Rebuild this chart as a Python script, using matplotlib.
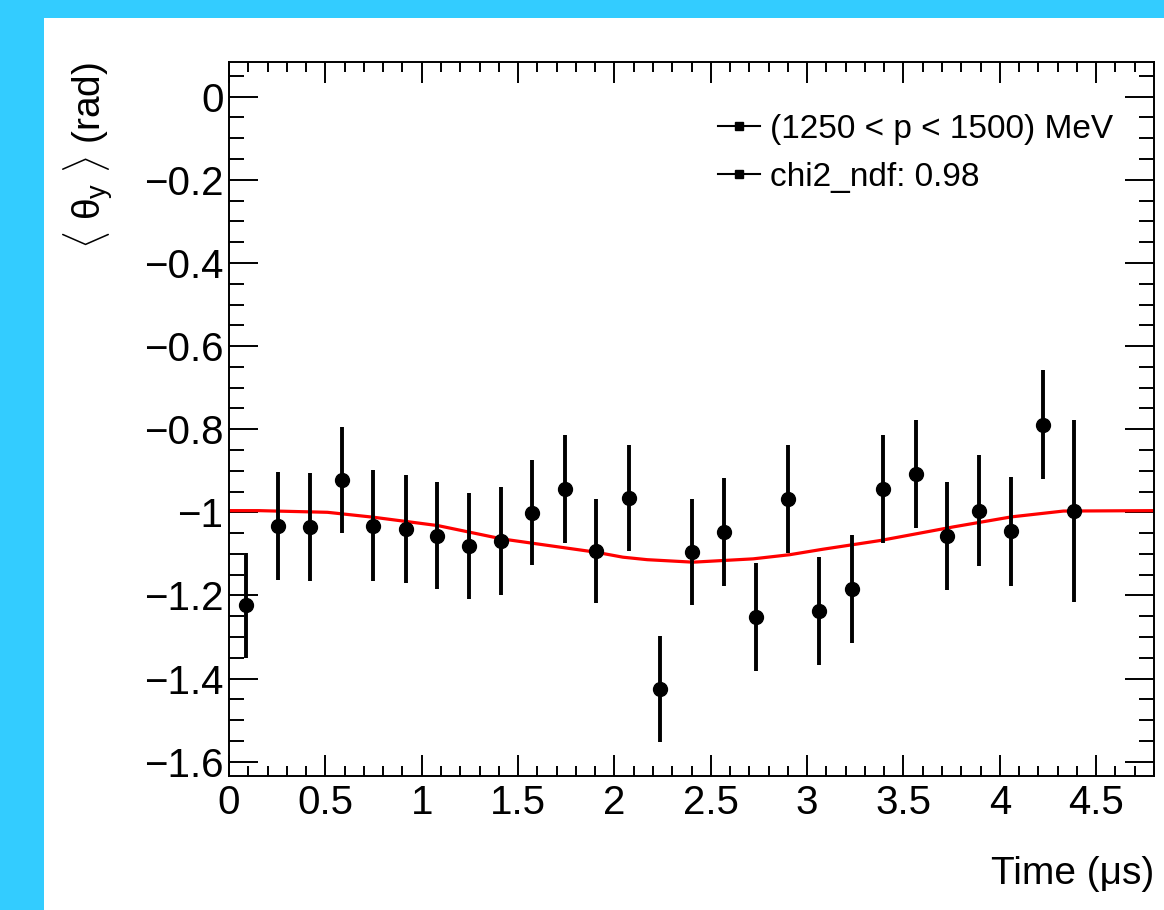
import matplotlib
matplotlib.use("Agg")
import matplotlib.pyplot as plt, numpy as np
from matplotlib.ticker import MultipleLocator, FuncFormatter
from matplotlib.lines import Line2D
from matplotlib.patches import Rectangle

plt.rcParams['font.family'] = ['Liberation Sans', 'DejaVu Sans']
plt.rcParams['mathtext.fontset'] = 'custom'
plt.rcParams['mathtext.rm'] = 'Liberation Sans'
plt.rcParams['mathtext.it'] = 'Liberation Sans'
plt.rcParams['axes.unicode_minus'] = True

# data
time_us = [0.087, 0.254, 0.419, 0.587, 0.745, 0.916, 1.077, 1.246, 1.411, 1.573,
           1.743, 1.904, 2.076, 2.237, 2.404, 2.569, 2.735, 2.901, 3.063, 3.233,
           3.392, 3.564, 3.725, 3.893, 4.057, 4.223, 4.387]
theta_y = [-1.224, -1.033, -1.036, -0.922, -1.032, -1.040, -1.056, -1.081, -1.068, -1.001,
           -0.944, -1.093, -0.966, -1.425, -1.096, -1.048, -1.253, -0.968, -1.237, -1.184,
           -0.944, -0.908, -1.057, -0.996, -1.046, -0.789, -0.996]
theta_err = [0.126, 0.131, 0.130, 0.127, 0.133, 0.130, 0.128, 0.128, 0.130, 0.127,
             0.130, 0.125, 0.127, 0.127, 0.127, 0.130, 0.130, 0.130, 0.130, 0.130,
             0.129, 0.130, 0.129, 0.133, 0.132, 0.132, 0.219]

# fit curve
fit_t = [0.0, 0.155, 0.511, 0.752, 1.084, 1.416, 1.904, 2.044, 2.17, 2.408,
         2.72, 2.91, 3.08, 3.378, 3.76, 4.06, 4.33, 4.8]
fit_y = [-0.996, -0.996, -1.0, -1.012, -1.032, -1.064, -1.096, -1.108, -1.114, -1.12,
         -1.112, -1.102, -1.089, -1.068, -1.035, -1.011, -0.997, -0.996]

legend_labels = ["(1250 < p < 1500) MeV", "chi2_ndf: 0.98"]

W, H = 1164, 910
fig = plt.figure(figsize=(W / 100, H / 100), dpi=100, facecolor='#33ccff')
fig.patches.append(Rectangle((44 / W, 0), 1 - 44 / W, (H - 18) / H,
                             transform=fig.transFigure, facecolor='white',
                             edgecolor='none', zorder=-10))

ax = fig.add_axes([229 / W, 1 - 776 / H, (1154 - 229) / W, (776 - 62) / H])

ax.errorbar(time_us, theta_y, yerr=theta_err, fmt='o', color='black',
            markersize=10, elinewidth=2.8, capsize=0, zorder=3)
ax.plot(fit_t, fit_y, color='red', lw=2.3, zorder=2)

ax.set_xlim(0, 4.8)
ax.set_ylim(-1.6345, 0.0835)

ax.xaxis.set_major_locator(MultipleLocator(0.5))
ax.xaxis.set_minor_locator(MultipleLocator(0.1))
ax.yaxis.set_major_locator(MultipleLocator(0.2))
ax.yaxis.set_minor_locator(MultipleLocator(0.05))
fmt = FuncFormatter(lambda v, p: ('%g' % round(v, 3)).replace('-', '\u2212'))
ax.xaxis.set_major_formatter(fmt)
ax.yaxis.set_major_formatter(fmt)

ax.tick_params(which='both', direction='in', top=True, right=True, width=1.4, labelsize=29)
ax.tick_params(axis='y', which='major', length=21, pad=4)
ax.tick_params(axis='y', which='minor', length=10.5)
ax.tick_params(axis='x', which='major', length=15, pad=6)
ax.tick_params(axis='x', which='minor', length=7.5)
for s in ax.spines.values():
    s.set_linewidth(1.4)

ax.set_xlabel("Time (\u03bcs)", fontsize=28, loc='right', labelpad=24)
ax.set_ylabel(r"$\langle\ \theta_{y}\ \rangle$ (rad)", fontsize=28, loc='top', labelpad=20)

handles = [Line2D([], [], color='black', lw=1.5, marker='s', markersize=6) for _ in legend_labels]
ax.legend(handles, legend_labels, loc='upper left', bbox_to_anchor=(0.529, 0.927),
          frameon=False, fontsize=24, handlelength=1.25, handletextpad=0.3,
          labelspacing=0.5, borderpad=0, borderaxespad=0)

fig.savefig("out.png", dpi=100, facecolor=fig.get_facecolor())
